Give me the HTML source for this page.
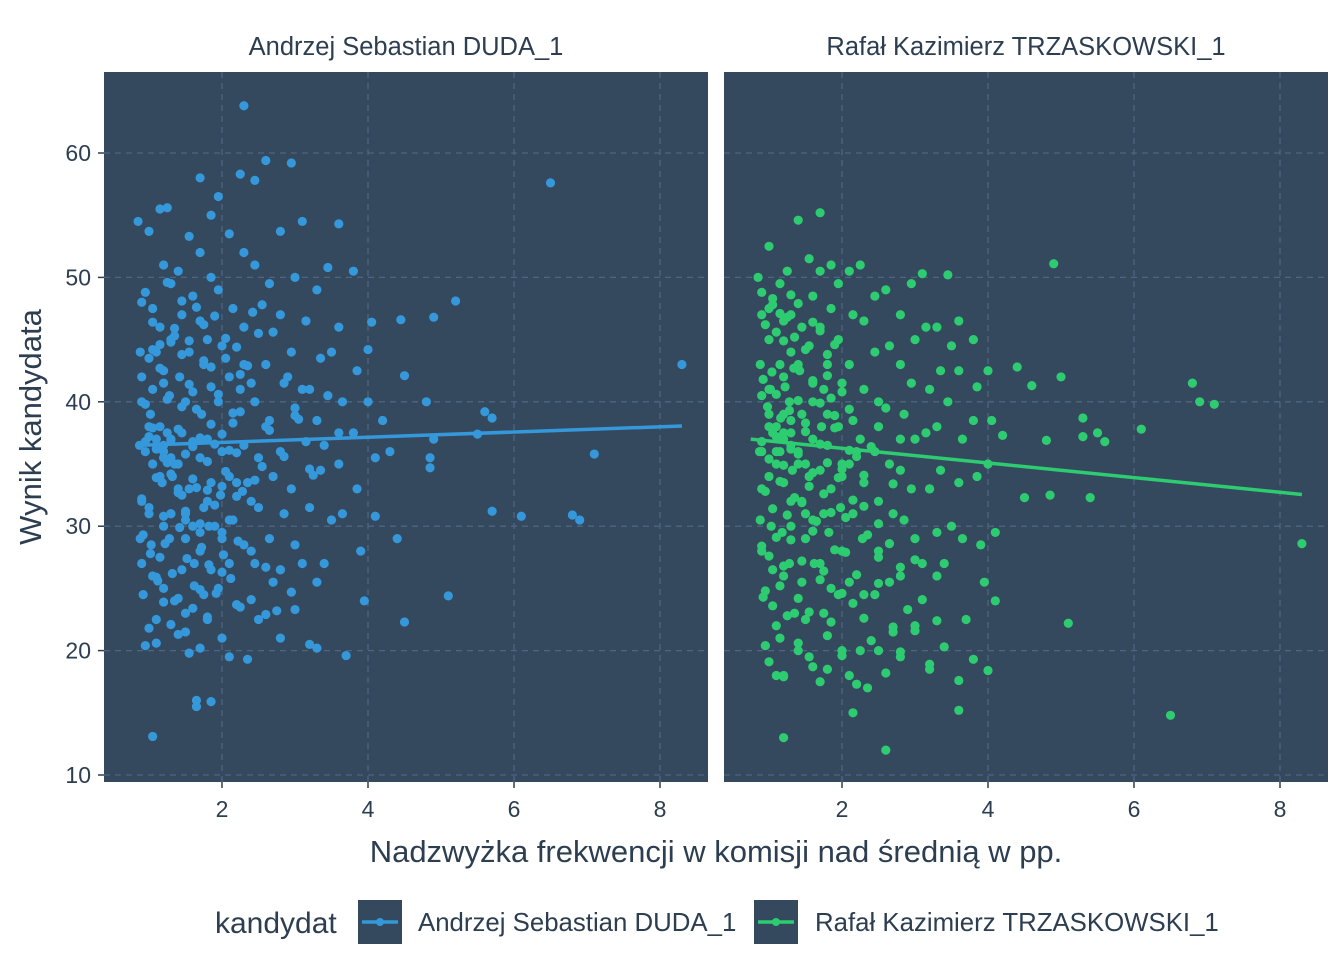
<!DOCTYPE html>
<html><head><meta charset="utf-8"><style>
html,body{margin:0;padding:0;background:#fff;overflow:hidden;}
svg{display:block;}
svg text{font-family:"Liberation Sans",sans-serif;fill:#2c3e50;}
</style></head><body>
<svg id="chart" width="1344" height="960" xmlns="http://www.w3.org/2000/svg">
<g id="plots"></g>
<text x="716" y="862" text-anchor="middle" font-size="31">Nadzwyżka frekwencji w komisji nad średnią w pp.</text>
<text transform="translate(41,427) rotate(-90)" text-anchor="middle" font-size="31">Wynik kandydata</text>
<text x="215" y="933" font-size="30">kandydat</text>
<g>
<rect x="358" y="900" width="44" height="44" fill="#34495e"/><line x1="362" x2="398" y1="922" y2="922" stroke="#3498db" stroke-width="3.5"/><circle cx="380" cy="922" r="4" fill="#3498db"/>
<text x="418" y="931" font-size="25.8">Andrzej Sebastian DUDA_1</text></g>
<g>
<rect x="754" y="900" width="44" height="44" fill="#34495e"/><line x1="758" x2="794" y1="922" y2="922" stroke="#2ecc71" stroke-width="3.5"/><circle cx="776" cy="922" r="4" fill="#2ecc71"/>
<text x="815" y="931" font-size="25.8">Rafał Kazimierz TRZASKOWSKI_1</text></g>
</svg>
<script>
const xTicks=[2,4,6,8];
const yTicks=[10,20,30,40,50,60];
const panelTitles=["Andrzej Sebastian DUDA_1","Rafał Kazimierz TRZASKOWSKI_1"];
const dudaX=[0.85,0.9,0.88,0.9,0.87,0.9,0.88,0.9,0.92,0.95,1.0,1.05,1.0,1.02,1.05,1.0,1.03,1.05,1.1,1.1,1.15,1.2,1.15,1.2,1.15,1.2,1.18,1.2,1.15,1.2,1.25,1.3,1.3,1.28,1.3,1.32,1.3,1.28,1.35,1.4,1.4,1.45,1.42,1.45,1.4,1.45,1.5,1.45,1.5,1.55,1.6,1.55,1.6,1.6,1.55,1.6,1.62,1.55,1.7,1.7,1.7,1.75,1.72,1.7,1.75,1.7,1.75,1.7,1.85,1.85,1.8,1.85,1.8,1.85,1.82,1.85,1.8,1.95,1.95,2.0,1.95,2.0,1.98,2.0,1.95,2.0,2.1,2.15,2.1,2.15,2.1,2.15,2.1,2.1,2.25,2.3,2.3,2.25,2.3,2.28,2.3,2.25,2.35,2.45,2.45,2.5,2.45,2.5,2.5,2.45,2.5,2.6,2.65,2.6,2.65,2.7,2.65,2.7,2.8,2.8,2.85,2.8,2.85,2.8,2.8,2.95,3.0,2.95,3.0,2.95,3.0,3.0,3.1,3.15,3.2,3.15,3.2,3.1,3.2,3.3,3.35,3.3,3.35,3.3,3.3,3.45,3.5,3.45,3.5,3.4,3.6,3.6,3.65,3.6,3.65,3.7,3.8,3.85,3.8,3.85,3.9,3.95,4.0,4.05,4.0,4.1,4.1,2.3,1.05,1.65,1.65,1.85,6.5,8.3,7.1,5.7,6.1,6.8,6.9,5.1,4.5,4.4,5.5,5.6,5.7,5.2,4.9,4.45,4.5,4.8,4.9,4.85,4.85,4.2,4.3,1.1,1.2,1.3,1.0,1.1,1.25,1.35,0.95,1.15,1.4,1.5,1.6,1.8,2.0,2.2,2.4,1.3,1.5,1.7,1.9,1.05,1.2,0.9,1.1,1.3,1.5,2.6,2.9,3.1,3.4,3.6,
0.95,1.0,1.1,1.2,1.3,1.4,1.5,1.6,1.7,1.8,1.9,2.0,2.1,2.2,2.3,2.4,0.95,1.05,1.15,1.25,1.35,1.45,1.55,1.65,1.75,1.85,1.95,2.05,2.15,2.25,2.35,2.55,0.9,1.0,1.1,1.2,1.3,1.4,1.5,1.6,1.7,1.8,1.9,2.0,2.1,2.2,2.4,2.6,0.92,1.02,1.12,1.22,1.32,1.42,1.52,1.62,1.72,1.82,1.92,2.02,2.12,2.22,2.42,2.7,0.95,1.05,1.15,1.25,1.35,1.45,1.55,1.65,1.75,1.9,2.05,2.2,2.35,2.55,2.75,2.95,1.0,1.1,1.2,1.3,1.4,1.5,1.6,1.7,1.8,2.0,2.2,2.4,2.6,2.8,3.0,3.2,1.05,1.25,1.45,1.65,1.85,2.05,2.25,2.45,2.65,2.85,3.05,3.25,3.45,3.55];
const dudaY=[54.5,48,44,40,36.5,32,29,27,24.5,20.4,53.7,47.5,43.5,39,35,31,28.5,26,22.5,20.6,55.5,51,46,42.5,38,36.5,33.5,30,27.5,25,55.6,49.5,44.8,40.5,37,34,31,29,24,21.3,50.5,47,42,37.5,35,32.5,29,26.5,23,53.3,48.5,44,40.8,36.8,33,30,27,19.8,58,52,46.5,43,39,35.5,31.5,28,24.5,20.2,55,50,45,41.2,37,33.5,30,26.5,22.5,56.5,49,44.5,40,36,32.5,29.5,25,21,53.5,47.5,42,38.3,34,30.5,27,19.5,58.3,52,46,41,36.5,32.8,28.5,23.5,19.3,57.8,51,45.5,40,35.5,31.5,27,22.5,59.4,49.5,43,38.5,34,29,25.5,53.7,47,41.5,36,31,26.5,21,59.2,50,44,39.5,33,28.5,23.3,54.5,46.5,41,36.8,31.5,27,20.5,49,43.5,38.5,34.5,25.5,20.2,50.8,44,40.5,30.5,27,54.3,46,40,35,31,19.6,50.5,42.5,37.5,33,28,24,44.2,46.4,40,35.5,30.8,63.8,13.1,15.5,16,15.9,57.6,43,35.8,31.2,30.8,30.9,30.5,24.4,22.3,29,37.4,39.2,38.7,48.1,46.8,46.6,42.1,40,37,35.5,34.7,38.5,36,37,36,35.5,38,36.5,37.5,35,36,34,33,31,30,32,29,33.5,32,31,30.5,29.5,30,41,41.5,42,44,45,40,38,42,41,
36.5,37.5,36.8,37.2,36.2,35.5,36.9,37.8,35.8,36.4,37.1,35.2,36.6,37.4,36.1,35.9,43,41.5,39.8,44.2,42.7,40.2,45.3,43.8,41.4,39.4,46.2,42.8,40.6,43.5,39.1,42.2,33.5,34.8,32.2,31.5,33.9,30.8,34.2,32.7,31.2,33.8,30.2,32.9,31.7,33.2,30.5,32.4,28,26.7,29.3,27.8,25.6,28.6,26.2,29.9,27.4,25.2,28.3,26.9,24.6,27.7,25.8,28.8,47.2,45.6,48.8,46.4,44.6,49.6,45.9,48.1,44.9,47.6,43.3,46.9,45.1,44.4,42.9,47.8,23.2,24.7,21.8,25.9,23.9,22.1,24.2,21.5,23.4,24.9,22.7,26.3,23.7,24.1,22.9,26.5,38.9,34.6,37.9,35.1,39.6,33.1,38.2,34.4,39.2,33.7,37.7,35.6,38.6,34.1];
const trzX=[0.85,0.9,0.88,0.9,0.87,0.9,0.88,0.9,0.92,0.95,1.0,1.05,1.0,1.02,1.05,1.0,1.03,1.05,1.1,1.1,1.15,1.2,1.15,1.2,1.15,1.2,1.18,1.2,1.15,1.2,1.25,1.3,1.3,1.28,1.3,1.32,1.3,1.28,1.35,1.4,1.4,1.45,1.42,1.45,1.4,1.45,1.5,1.45,1.5,1.55,1.6,1.55,1.6,1.6,1.55,1.6,1.62,1.55,1.7,1.7,1.7,1.75,1.72,1.7,1.75,1.7,1.75,1.7,1.85,1.85,1.8,1.85,1.8,1.85,1.82,1.85,1.8,1.95,1.95,2.0,1.95,2.0,1.98,2.0,1.95,2.0,2.1,2.15,2.1,2.15,2.1,2.15,2.1,2.1,2.25,2.3,2.3,2.25,2.3,2.28,2.3,2.25,2.35,2.45,2.45,2.5,2.45,2.5,2.5,2.45,2.5,2.6,2.65,2.6,2.65,2.7,2.65,2.7,2.8,2.8,2.85,2.8,2.85,2.8,2.8,2.95,3.0,2.95,3.0,2.95,3.0,3.0,3.1,3.15,3.2,3.15,3.2,3.1,3.2,3.3,3.35,3.3,3.35,3.3,3.3,3.45,3.5,3.45,3.5,3.4,3.6,3.6,3.65,3.6,3.65,3.7,3.8,3.85,3.8,3.85,3.9,3.95,4.0,4.05,4.0,4.1,4.1,1.2,2.6,2.15,3.6,6.5,8.3,7.1,6.9,6.8,6.1,5.5,5.6,5.3,5.1,5.0,4.9,4.8,4.6,4.5,4.4,5.4,5.3,4.85,4.2,1.0,1.1,1.2,1.3,1.4,1.0,1.1,1.2,1.3,1.5,1.6,1.8,2.0,1.1,1.3,1.5,0.9,1.0,1.2,1.4,2.2,2.5,2.8,3.2,
0.9,0.95,1.0,1.05,1.1,1.15,1.2,1.25,1.3,1.35,1.4,1.5,1.6,1.7,1.8,1.9,0.92,0.98,1.04,1.1,1.16,1.22,1.28,1.34,1.4,1.5,1.6,1.7,1.8,1.9,2.0,2.1,0.9,1.0,1.1,1.2,1.3,1.4,1.5,1.6,1.7,1.8,1.9,2.0,2.1,2.2,2.3,2.4,0.95,1.05,1.15,1.25,1.35,1.45,1.55,1.65,1.75,1.85,1.95,2.05,2.15,2.3,2.5,2.7,0.9,1.0,1.1,1.2,1.3,1.45,1.6,1.75,1.9,2.05,2.2,2.35,2.5,2.65,2.8,3.0,0.95,1.05,1.15,1.25,1.4,1.55,1.7,1.85,2.0,2.15,2.3,2.5,2.7,2.9,3.1,3.3,1.0,1.2,1.4,1.6,1.8,2.0,2.2,2.4,2.6,2.8,3.0,3.2,3.4,3.6,3.8,4.0];
const trzY=[50,47,43,40.5,36,33,30.5,28,24.3,20.4,52.5,47.8,45,41,37.5,34,30,26.5,22,18,49.5,46.5,43,39,36,33.5,29.5,26,21,18,50.5,47,44,40,37.5,34.5,30,27,23,20,54.6,46,42.5,39,36,32,29,25.5,22.5,51.5,48.5,44.5,41.5,37,34,30.5,27,19.5,55.2,50.5,46,41,38,34.5,31,27,23,17.5,51,47.5,43,40.3,36.5,33,29.5,25,18.5,49.5,45,41.5,38,35,31.5,28,24.5,20,50.5,47,43,38.5,35,31,25.5,18,51,46.5,41,37,33.5,29,24.5,20,17,48.5,44,40,36,32,28,24.5,20,49,44.5,39.5,35,31,25.5,21.5,47,43,39,34.5,30.5,26,19.5,49.5,45,41.5,37,33,29,22,50.3,46,41,37.5,33,27,18.5,46,42.5,38,34.5,29.5,26,50.2,44.5,40,30,27,46.5,42.5,37,33.5,29,22.5,45,41.2,38.5,34,28.5,25.5,42.5,38.5,35,29.5,24,13,12,15,15.2,14.8,28.6,39.8,40,41.5,37.8,37.5,36.8,38.7,22.2,42,51.1,36.9,41.3,32.3,42.8,32.3,37.2,32.5,37.3,38,36,37,38.5,35,39,38,37.5,36.5,35,40,39,34,35,32,31,36,41,42,43,36,38,37,33,
48.8,46.2,47.5,48.3,45.6,47.1,44.9,46.8,48.6,45.2,47.9,44.2,46.4,45.7,43.8,44.6,41.8,39.6,42.4,40.6,38.7,41.2,39.3,42.7,40.1,38.3,41.7,39.9,42.1,38.9,40.8,39.4,36.8,35.4,37.2,34.9,36.2,35.8,37.6,34.3,36.6,35.1,37.9,34.6,36.1,35.6,34.1,36.4,32.8,31.4,33.6,30.9,32.3,31.9,33.2,30.4,32.6,31.1,33.9,30.7,32.1,31.6,30.2,33.4,28.4,27.6,29.1,26.8,28.9,27.2,29.6,26.4,28.1,27.9,26.1,29.3,27.5,28.6,26.7,27.3,24.8,23.6,25.2,22.8,24.2,23.1,25.7,22.3,24.6,23.8,22.6,25.4,21.9,23.3,24.1,22.4,19.1,17.9,20.6,18.7,21.2,19.6,17.3,20.8,18.2,19.9,21.6,18.9,20.3,17.6,19.3,18.4];
const YS=yv=>775-(yv-10)*12.44, XU=73,pTop=72,pBot=782;
const panels=[{x0:104,x1:708,ox:76,xs:dudaX,ys:dudaY,col:"#3498db",lx:[0.85,8.3],ly:[36.5,38.05],name:"duda"},
{x0:724,x1:1328,ox:696,xs:trzX,ys:trzY,col:"#2ecc71",lx:[0.75,8.3],ly:[37.0,32.55],name:"trzaskowski"}];
const NS="http://www.w3.org/2000/svg",root=document.getElementById("plots");
function el(t,a,p){const e=document.createElementNS(NS,t);for(const k in a)e.setAttribute(k,a[k]);p.appendChild(e);return e;}
panels.forEach((p,i)=>{
 const xS=v=>p.ox+v*XU;
 const g=el("g",{},root);
 
 
 el("rect",{x:p.x0,y:pTop,width:p.x1-p.x0,height:pBot-pTop,fill:"#34495e"},g);
 yTicks.forEach(v=>{const l=el("line",{x1:p.x0,x2:p.x1,y1:YS(v),y2:YS(v),stroke:"#4d6582","stroke-width":1.3,"stroke-dasharray":"6,5"},g);
  
  });
 xTicks.forEach(v=>{const l=el("line",{y1:pTop,y2:pBot,x1:xS(v),x2:xS(v),stroke:"#4d6582","stroke-width":1.3,"stroke-dasharray":"6,5"},g);
  
  
  const t=el("line",{x1:xS(v),x2:xS(v),y1:pBot,y2:pBot+6,stroke:"#2c3e50","stroke-width":1.5},root);
  
  
  const tx=el("text",{x:xS(v),y:pBot+35,"text-anchor":"middle","font-size":23},root);tx.textContent=v;
  
  });
 p.xs.forEach((x,j)=>{if(p.ys[j]===undefined)return;
  const c=el("circle",{cx:xS(x),cy:YS(p.ys[j]),r:4.6,fill:p.col},g);
  
  });
 const ln=el("line",{x1:xS(p.lx[0]),y1:YS(p.ly[0]),x2:xS(p.lx[1]),y2:YS(p.ly[1]),stroke:p.col,"stroke-width":3.5},g);
 
 
 const st=el("text",{x:(p.x0+p.x1)/2,y:55,"text-anchor":"middle","font-size":25.5},root);st.textContent=panelTitles[i];
 
 
});
yTicks.forEach(v=>{const t=el("line",{x1:98,x2:104,y1:YS(v),y2:YS(v),stroke:"#2c3e50","stroke-width":1.5},root);
 
 
 const tx=el("text",{x:91,y:YS(v)+8,"text-anchor":"end","font-size":23},root);tx.textContent=v;
 
 });
</script>
</body></html>
